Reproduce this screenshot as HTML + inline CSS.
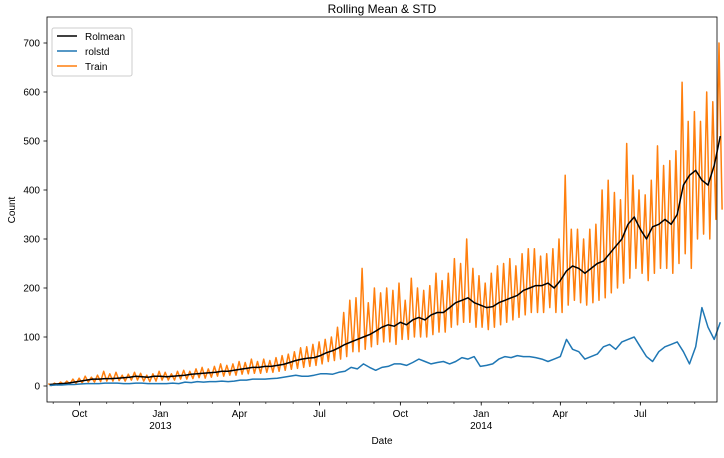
<!DOCTYPE html>
<html><head><meta charset="utf-8"><style>
body{margin:0;background:#fff;font-family:"Liberation Sans",sans-serif;}
svg text{font-family:"Liberation Sans",sans-serif;font-size:10px;fill:#000;}
</style></head><body>
<svg id="chart" width="724" height="453" xmlns="http://www.w3.org/2000/svg">
<rect x="0" y="0" width="724" height="453" fill="#fff"/>
<g id="grid-ticks"></g>
<g id="series"></g>
<rect x="47" y="17" width="670" height="385" fill="none" stroke="#000" stroke-width="0.8"/>
<text x="382" y="17" dy="-4" text-anchor="middle" style="font-size:12px">Rolling Mean &amp; STD</text>
<text x="382" y="444" text-anchor="middle">Date</text>
<text transform="translate(15,210) rotate(-90)" text-anchor="middle">Count</text>
<g>
<rect x="52" y="28" width="80" height="48" rx="2" fill="#fff" fill-opacity="0.8" stroke="#ccc"/>
<line x1="57" y1="36" x2="77" y2="36" stroke="#000" stroke-width="1.5"/><text x="85" y="40">Rolmean</text>
<line x1="57" y1="51" x2="77" y2="51" stroke="#1f77b4" stroke-width="1.5"/><text x="85" y="55">rolstd</text>
<line x1="57" y1="66" x2="77" y2="66" stroke="#ff7f0e" stroke-width="1.5"/><text x="85" y="70">Train</text>
</g>
</svg>
<script>
const startDate = "2012-08-25";
const yTicks = [0,100,200,300,400,500,600,700];
const xTickLabels = [["2012-10-01","Oct",""],["2013-01-01","Jan","2013"],["2013-04-01","Apr",""],["2013-07-01","Jul",""],["2013-10-01","Oct",""],["2014-01-01","Jan","2014"],["2014-04-01","Apr",""],["2014-07-01","Jul",""]];
const rolmean = [3,4,5,6,8,10,12,14,14,15,15,16,17,18,20,19,18,20,20,19,20,21,22,24,25,26,27,28,30,30,32,34,36,38,38,40,40,42,44,48,52,55,57,58,62,68,72,78,85,90,95,100,105,112,120,125,122,130,125,135,140,135,145,150,150,160,170,175,180,170,165,160,162,170,175,180,185,195,200,205,205,210,200,215,235,245,240,230,240,250,255,270,285,300,330,345,320,300,325,330,340,330,350,410,430,440,420,410,450,510];
const rolstd = [1,2,2,3,3,4,5,5,5,6,6,6,5,5,6,6,5,5,5,5,6,5,8,7,9,8,9,9,10,9,10,12,12,14,14,14,15,16,18,20,22,20,20,22,25,25,24,28,30,38,35,45,38,32,38,40,45,45,42,48,55,50,45,48,50,45,50,58,55,60,40,42,45,55,60,58,62,60,60,58,55,50,55,60,95,75,70,55,60,65,80,85,75,90,95,100,80,60,50,70,80,85,90,70,45,80,160,120,95,130];
const trainHigh = [5,6,8,10,14,16,20,18,22,30,25,28,22,24,28,26,22,25,30,28,25,30,32,30,35,38,35,40,45,42,45,50,48,55,50,55,52,58,62,65,70,78,80,85,90,95,100,120,150,175,180,240,170,200,190,200,195,210,175,220,200,195,205,230,215,230,260,250,300,240,225,210,230,245,250,260,245,270,280,280,265,270,280,300,430,320,320,300,320,330,400,420,395,380,495,430,400,390,420,490,450,460,480,620,540,560,540,600,580,700];
const trainLow = [1,2,3,4,5,6,8,8,9,10,10,11,10,12,12,10,9,10,12,12,12,14,14,15,17,16,18,20,20,22,22,24,25,26,26,28,28,30,32,34,36,38,40,42,45,50,52,55,60,70,70,75,80,85,90,90,85,95,95,100,100,100,105,110,110,120,125,130,130,120,120,115,120,125,130,135,140,145,150,150,150,160,150,150,165,175,170,165,170,175,180,190,200,210,220,240,230,215,230,240,240,230,250,270,240,300,310,300,340,360];

const NS='http://www.w3.org/2000/svg';
const t0 = Date.parse(startDate);
function xOfDay(d){return 47 + d*0.879;}
function xOfDate(s){return xOfDay((Date.parse(s)-t0)/86400000);}
function yOf(v){return 386 - v*0.49;}
const gT=document.getElementById('grid-ticks');
const gS=document.getElementById('series');
function mk(tag,attrs,parent){const e=document.createElementNS(NS,tag);for(const k in attrs)e.setAttribute(k,attrs[k]);parent.appendChild(e);return e;}
yTicks.forEach(v=>{
  const y=yOf(v);
  mk('line',{x1:43.5,x2:47,y1:y,y2:y,stroke:'#000','stroke-width':0.8},gT);
  const t=mk('text',{x:40,y:y+3.5,'text-anchor':'end'},gT);
  t.textContent=v;
  
  
});
for(let y=2012,m=8;y<2015;){
  const s=y+'-'+String(m+1).padStart(2,'0')+'-01';
  const x=xOfDate(s);
  if(x>47&&x<717) mk('line',{x1:x,x2:x,y1:402,y2:404,stroke:'#000','stroke-width':0.6},gT);
  m++; if(m>11){m=0;y++;}
}
xTickLabels.forEach(([d,l1,l2])=>{
  const x=xOfDate(d);
  mk('line',{x1:x,x2:x,y1:402,y2:405.5,stroke:'#000','stroke-width':0.8},gT);
  const t=mk('text',{x:x,y:417,'text-anchor':'middle'},gT);
  t.textContent=l1;
  
  
  if(l2){const t2=mk('text',{x:x,y:429,'text-anchor':'middle'},gT);t2.textContent=l2;
  
  }
});
// train
let pts=[];
trainHigh.forEach((h,i)=>{
  pts.push(xOfDay(i*7+1.5).toFixed(1)+','+yOf(h).toFixed(1));
  pts.push(xOfDay(i*7+5).toFixed(1)+','+yOf(trainLow[i]).toFixed(1));
});
const pT=mk('polyline',{points:pts.join(' '),fill:'none',stroke:'#ff7f0e','stroke-width':1.5,'stroke-linejoin':'round'},gS);


function line(arr,color,name){
  const p=arr.map((v,i)=>xOfDay(i*7+3).toFixed(1)+','+yOf(v).toFixed(1)).join(' ');
  const e=mk('polyline',{points:p,fill:'none',stroke:color,'stroke-width':1.5,'stroke-linejoin':'round'},gS);
  
  
}
line(rolmean,'#000','rolmean-line');
line(rolstd,'#1f77b4','rolstd-line');
</script>
</body></html>
